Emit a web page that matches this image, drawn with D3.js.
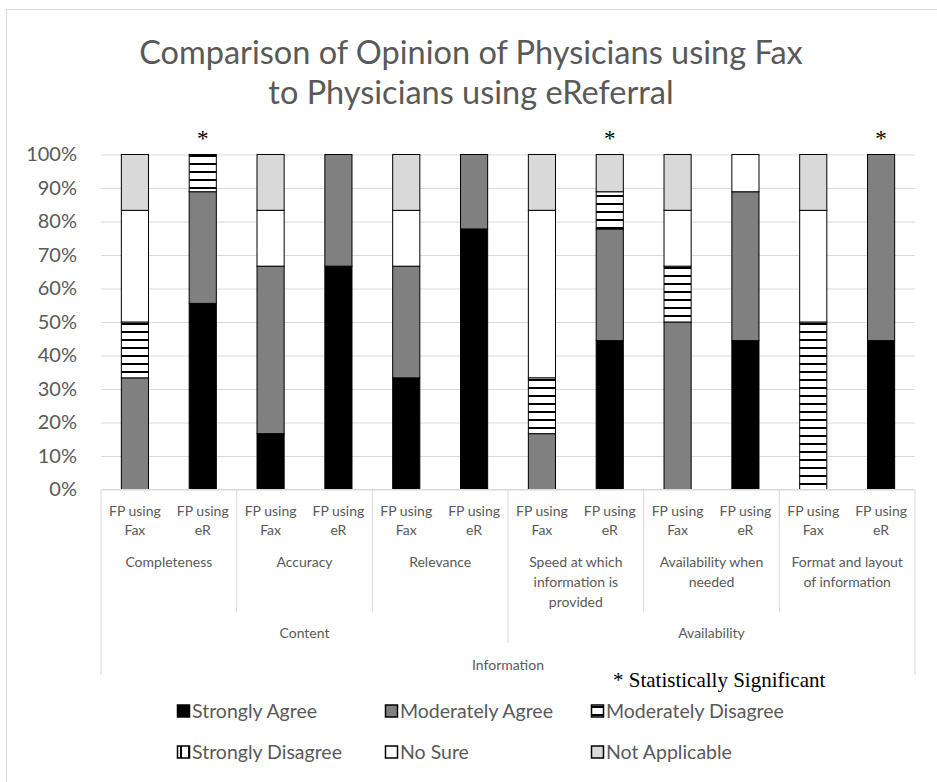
<!DOCTYPE html>
<html>
<head>
<meta charset="utf-8">
<script src="https://cdn.jsdelivr.net/npm/d3@7"></script>
<style>
	body { margin: 0; background: #fff; }
	text { font-family: Lato, "Noto Sans", sans-serif; fill: #595959; }
	.serif { font-family: "Liberation Serif", "DejaVu Serif", serif; fill: #000; }
</style>
</head>
<body>
<div class="chart"></div>
<script>
//==================================
// Data
//==================================
var barLabels = ["FP using Fax", "FP using eR"];
var groupLabels = [
	["Completeness"],
	["Accuracy"],
	["Relevance"],
	["Speed at which", "information is", "provided"],
	["Availability when", "needed"],
	["Format and layout", "of information"]
];
var sectionLabels = ["Content", "Availability"];
var sectionSizes = [3, 3];
var topLabel = "Information";

var seriesNames = ["Strongly Agree", "Moderately Agree", "Moderately Disagree",
	"Strongly Disagree", "No Sure", "Not Applicable"];

// one value per bar: Fax, eR for each of the six groups (percent)
var stronglyAgree      = [0, 55.56, 16.67, 66.67, 33.33, 77.78, 0, 44.44, 0, 44.44, 0, 44.44];
var moderatelyAgree    = [33.33, 33.33, 50, 33.33, 33.33, 22.22, 16.67, 33.33, 50, 44.44, 0, 55.56];
var moderatelyDisagree = [16.67, 11.11, 0, 0, 0, 0, 16.67, 11.11, 16.67, 0, 50, 0];
var stronglyDisagree   = [0, 0, 0, 0, 0, 0, 0, 0, 0, 0, 0, 0];
var noSure             = [33.33, 0, 16.67, 0, 16.67, 0, 50, 0, 16.67, 11.11, 33.33, 0];
var notApplicable      = [16.67, 0, 16.67, 0, 16.67, 0, 16.67, 11.11, 16.67, 0, 16.67, 0];

var significant = [false, true, false, false, false, false, false, true, false, false, false, true];
var yTicks = [0, 10, 20, 30, 40, 50, 60, 70, 80, 90, 100];

//==================================
// Set up the chart
//==================================
var svgWidth = 937;
var svgHeight = 782;
var plot = { left: 101, right: 915, top: 154.5, bottom: 489.5 };

var svg = d3.select(".chart")
	.append("svg")
	.attr("width", svgWidth)
	.attr("height", svgHeight);

var defs = svg.append("defs");

// horizontal stripes (moderately disagree)
var hp = defs.append("pattern")
	.attr("id", "hstripe")
	.attr("patternUnits", "userSpaceOnUse")
	.attr("width", 8).attr("height", 8);
hp.append("rect").attr("width", 8).attr("height", 8).attr("fill", "#fff");
hp.append("rect").attr("y", 3).attr("width", 8).attr("height", 2).attr("fill", "#000");

// vertical stripes (strongly disagree)
var vp = defs.append("pattern")
	.attr("id", "vstripe")
	.attr("patternUnits", "userSpaceOnUse")
	.attr("width", 8).attr("height", 8);
vp.append("rect").attr("width", 8).attr("height", 8).attr("fill", "#fff");
vp.append("rect").attr("x", 3).attr("width", 2).attr("height", 8).attr("fill", "#000");

var fills = ["#000000", "#808080", "url(#hstripe)", "url(#vstripe)", "#ffffff", "#d9d9d9"];

// outer frame
svg.append("rect")
	.attr("x", 6.5).attr("y", 9.5)
	.attr("width", 960).attr("height", 820)
	.attr("fill", "none")
	.attr("stroke", "#d9d9d9");

// title
var title = svg.append("text")
	.attr("text-anchor", "middle")
	.style("font-size", "32.5px");
title.append("tspan").attr("x", 471).attr("y", 64).text("Comparison of Opinion of Physicians using Fax");
title.append("tspan").attr("x", 471).attr("y", 104).text("to Physicians using eReferral");

// scales
var keys = d3.range(stronglyAgree.length);
var xScale = d3.scaleBand()
	.domain(keys)
	.range([plot.left, plot.right])
	.paddingInner(0.6)
	.paddingOuter(0.3);
var yScale = d3.scaleLinear().domain([0, 100]).range([plot.bottom, plot.top]);

// y axis with gridlines
var leftAxis = d3.axisLeft(yScale)
	.tickValues(yTicks)
	.tickSize(-(plot.right - plot.left))
	.tickPadding(24)
	.tickFormat(function(d) { return d + "%"; });

var yAxisG = svg.append("g")
	.attr("transform", "translate(" + plot.left + ",0)")
	.call(leftAxis);
yAxisG.select(".domain").remove();
yAxisG.selectAll("line").attr("stroke", "#d9d9d9");
yAxisG.selectAll("text")
	.style("font-size", "20px")
	.style("font-family", "Lato, 'Noto Sans', sans-serif")
	.attr("fill", "#595959");

// stacked bars
var rows = keys.map(function(i) {
	return [stronglyAgree[i], moderatelyAgree[i], moderatelyDisagree[i],
		stronglyDisagree[i], noSure[i], notApplicable[i]];
});
var stack = d3.stack().keys(d3.range(seriesNames.length));
var stacked = stack(rows);

var layers = svg.append("g")
	.selectAll("g")
	.data(stacked)
	.enter()
	.append("g")
	.attr("fill", function(d, i) { return fills[i]; });

layers.selectAll("rect")
	.data(function(d) { return d.map(function(p, i) { return { p: p, i: i }; }); })
	.enter()
	.filter(function(d) { return d.p[1] - d.p[0] > 0; })
	.append("rect")
	.attr("x", function(d) { return xScale(d.i); })
	.attr("width", xScale.bandwidth())
	.attr("y", function(d) { return yScale(d.p[1]); })
	.attr("height", function(d) { return yScale(d.p[0]) - yScale(d.p[1]); })
	.attr("stroke", "#000")
	.attr("stroke-width", 1);

// asterisks for significant bars
svg.append("g")
	.selectAll("text")
	.data(keys.filter(function(i) { return significant[i]; }))
	.enter()
	.append("text")
	.attr("class", "serif")
	.attr("text-anchor", "middle")
	.attr("x", function(i) { return xScale(i) + xScale.bandwidth() / 2; })
	.attr("y", 146)
	.style("font-size", "23px")
	.text("*");

//==================================
// Multi-level category axis
//==================================
var axisG = svg.append("g");
var lineColor = "#d9d9d9";
var axisFont = "14px";

axisG.append("line")
	.attr("x1", plot.left).attr("x2", plot.right)
	.attr("y1", plot.bottom).attr("y2", plot.bottom)
	.attr("stroke", lineColor);

var step = xScale.step();
var groupWidth = step * barLabels.length;

// bar labels
keys.forEach(function(i) {
	var label = barLabels[i % barLabels.length];
	var cx = xScale(i) + xScale.bandwidth() / 2;
	var t = axisG.append("text")
		.attr("text-anchor", "middle")
		.style("font-size", axisFont);
	t.append("tspan").attr("x", cx).attr("y", 516).text("FP using");
	t.append("tspan").attr("x", cx).attr("y", 535).text(label.replace("FP using ", ""));
});

// group labels
groupLabels.forEach(function(lines, g) {
	var x0 = plot.left + g * groupWidth;
	var cx = x0 + groupWidth / 2;
	var t = axisG.append("text")
		.attr("text-anchor", "middle")
		.style("font-size", axisFont);
	lines.forEach(function(s, k) {
		t.append("tspan").attr("x", cx).attr("y", 567 + k * 20).text(s);
	});
});

// section labels and separators
var start = 0;
sectionLabels.forEach(function(name, s) {
	var x0 = plot.left + start * groupWidth;
	var x1 = x0 + sectionSizes[s] * groupWidth;
	axisG.append("text")
		.attr("text-anchor", "middle")
		.attr("x", (x0 + x1) / 2)
		.attr("y", 638)
		.style("font-size", axisFont)
		.text(name);
	for (var g = 1; g < sectionSizes[s]; g++) {
		var gx = x0 + g * groupWidth;
		axisG.append("line")
			.attr("x1", gx).attr("x2", gx)
			.attr("y1", plot.bottom).attr("y2", 612)
			.attr("stroke", lineColor);
	}
	if (s > 0) {
		axisG.append("line")
			.attr("x1", x0).attr("x2", x0)
			.attr("y1", plot.bottom).attr("y2", 643)
			.attr("stroke", lineColor);
	}
	start += sectionSizes[s];
});

// outer edges and top label
[plot.left, plot.right].forEach(function(x) {
	axisG.append("line")
		.attr("x1", x).attr("x2", x)
		.attr("y1", plot.bottom).attr("y2", 675)
		.attr("stroke", lineColor);
});
axisG.append("text")
	.attr("text-anchor", "middle")
	.attr("x", (plot.left + plot.right) / 2)
	.attr("y", 670)
	.style("font-size", axisFont)
	.text(topLabel);

// note
svg.append("text")
	.attr("class", "serif")
	.attr("x", 613)
	.attr("y", 687)
	.style("font-size", "21px")
	.text("* Statistically Significant");

//==================================
// Legend
//==================================
var legendX = [177, 385, 591];
var legendY = [711, 752];
var legend = svg.append("g")
	.selectAll("g")
	.data(seriesNames)
	.enter()
	.append("g")
	.attr("transform", function(d, i) {
		return "translate(" + legendX[i % 3] + "," + legendY[Math.floor(i / 3)] + ")";
	});

legend.append("rect")
	.attr("x", 0.5).attr("y", -6)
	.attr("width", 12).attr("height", 12)
	.attr("fill", function(d, i) { return fills[i]; })
	.attr("stroke", "#000")
	.attr("stroke-width", 1.5);

legend.append("text")
	.attr("x", 15)
	.attr("dy", "0.35em")
	.style("font-size", "19.5px")
	.text(function(d) { return d; });
</script>
</body>
</html>
